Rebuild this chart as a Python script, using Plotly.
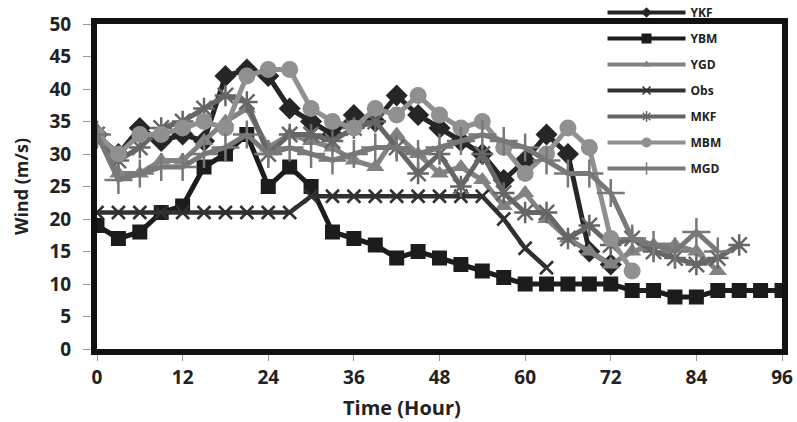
import plotly.graph_objects as go

hours = list(range(0, 97, 3))

ykf = [33, 30, 34, 32, 33, 32, 42, 43, 42, 37, 35, 33, 36, 35, 39, 36, 34, 32, 30, 26, 29, 33, 30, 15, 13]
ybm = [19, 17, 18, 21, 22, 28, 30, 33, 25, 28, 25, 18, 17, 16, 14, 15, 14, 13, 12, 11, 10, 10, 10, 10, 10, 9, 9, 8, 8, 9, 9, 9, 9]
ygd = [33, 27, 27, 29, 29, 32, 35, 37, 31, 33, 32, 31, 29, 28, 33, 30, 27, 28, 26, 22, 24, 20, 17, 15, 13, 15, 16, 16, 15, 12]
obs = [21, 21, 21, 21, 21, 21, 21, 21, 21, 21, 23.5, 23.5, 23.5, 23.5, 23.5, 23.5, 23.5, 23.5, 23.5, 20, 15.5, 12.5]
mkf = [33, 29, 31, 34, 35, 37, 39, 38, 30, 33, 33, 32, 34, 35, 31, 27, 30, 25, 30, 24, 21, 21, 17, 19, 16, 17, 15, 14, 13, 14, 16]
mbm = [33, 30, 33, 33, 34, 35, 34, 42, 43, 43, 37, 35, 34, 37, 36, 39, 36, 34, 35, 31, 27, 30, 34, 31, 17, 12]
mgd = [33, 26, 27, 28, 28, 30, 31, 33, 30, 31, 30, 29, 30, 31, 31, 30, 31, 32, 33, 32, 31, 29, 27, 27, 24, 17, 16, 15, 18, 15]

names = ["YKF", "YBM", "YGD", "Obs", "MKF", "MBM", "MGD"]
series = [ykf, ybm, ygd, obs, mkf, mbm, mgd]
colors = ["#262626", "#1c1c1c", "#828282", "#303030", "#666666", "#909090", "#787878"]
symbols = ["diamond", "square", "triangle-up", "x-thin-open", "asterisk-open", "circle", "cross-thin-open"]
sizes = [17, 15, 16, 13, 18, 17, 20]
legend_sizes = [8, 10, 8, 8, 9, 10, 9]
lwidths = [5, 5, 5, 4.5, 5, 5, 5]

fig = go.Figure()
for i, (n, s) in enumerate(zip(names, series)):
    thin = symbols[i].endswith("-open")
    fig.add_trace(go.Scatter(
        x=hours[:len(s)], y=s, name=n, mode="lines+markers",
        legendgroup=n, showlegend=False,
        line=dict(color=colors[i], width=lwidths[i]),
        marker=dict(symbol=symbols[i], size=sizes[i], color=colors[i],
                    line=dict(color=colors[i], width=2.5 if thin else 0)),
    ))
for i, n in enumerate(names):
    thin = symbols[i].endswith("-open")
    fig.add_trace(go.Scatter(
        x=[None], y=[None], name=n, mode="lines+markers",
        legendgroup=n, showlegend=True,
        line=dict(color=colors[i], width=4),
        marker=dict(symbol=symbols[i], size=legend_sizes[i], color=colors[i],
                    line=dict(color=colors[i], width=1.5 if thin else 0)),
    ))

font_family = "Open Sans, Liberation Sans, sans-serif"
fig.update_layout(
    width=797, height=422,
    margin=dict(l=97, r=15, t=24, b=73, autoexpand=False),
    paper_bgcolor="white", plot_bgcolor="white",
    font=dict(family=font_family, color="#222222"),
    showlegend=True,
    legend=dict(x=0.738, y=1.08, xanchor="left", yanchor="top",
                bgcolor="rgba(0,0,0,0)", itemwidth=78, tracegroupgap=7,
                font=dict(size=12, weight="bold", color="#222222")),
    xaxis=dict(range=[0, 96], tickvals=list(range(0, 97, 12)),
               showgrid=False, zeroline=False,
               showline=True, linecolor="#111111", linewidth=6, mirror=True,
               ticks="outside", ticklen=6, tickcolor="#999999", tickwidth=1,
               tickfont=dict(size=19, weight="bold", color="#222222")),
    yaxis=dict(range=[0, 50], dtick=5,
               showgrid=False, zeroline=False,
               showline=True, linecolor="#111111", linewidth=6, mirror=True,
               ticks="outside", ticklen=8, tickcolor="#999999", tickwidth=1,
               ticklabelstandoff=8,
               tickfont=dict(size=19, weight="bold", color="#222222"),
               title=dict(text="Wind (m/s)", font=dict(size=18, weight="bold", color="#222222"), standoff=18)),
    annotations=[dict(text="Time (Hour)", xref="paper", yref="paper",
                      x=0.445, y=-0.18, xanchor="center", yanchor="middle",
                      showarrow=False,
                      font=dict(size=20, weight="bold", color="#222222"))],
)

fig.write_html("out.html")
